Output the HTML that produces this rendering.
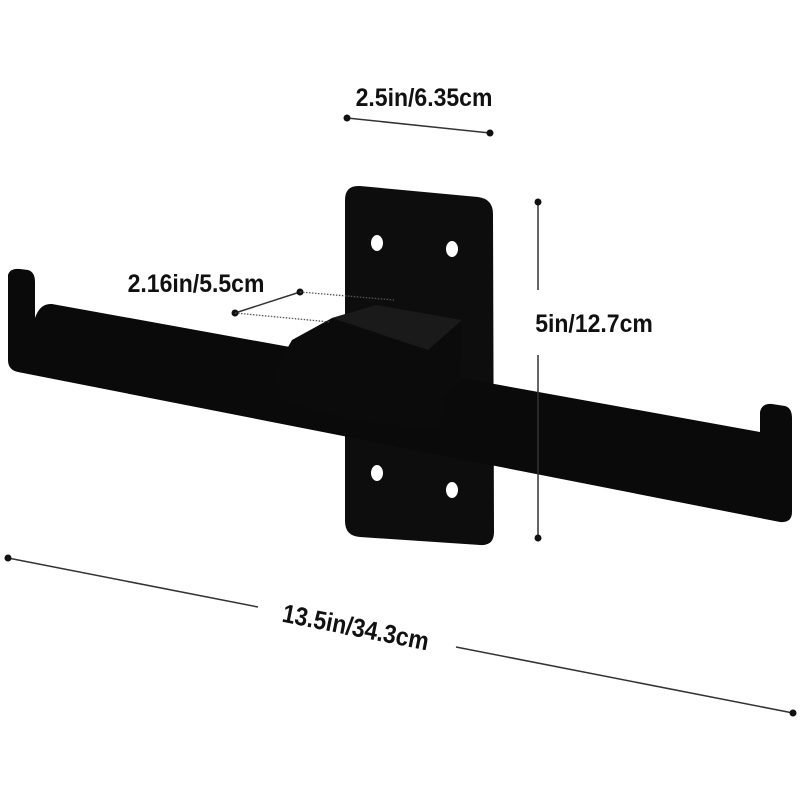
<!DOCTYPE html>
<html><head><meta charset="utf-8"><style>
html,body{margin:0;padding:0;background:#fff;}
svg{display:block}
text{font-family:"Liberation Sans Narrow","Liberation Sans",sans-serif;font-weight:bold;fill:#111;}
</style></head><body>
<svg width="800" height="800" viewBox="0 0 800 800">
<!-- plate -->
<path d="M360,186 L478,197 Q493,199 493,214 L494,532 Q494,546 480,545 L360,537 Q345,536 345,521 L345,200 Q345,185 360,186 Z" fill="#0d0d0d"/>
<ellipse cx="377" cy="243" rx="6" ry="8" fill="#fff"/>
<ellipse cx="452" cy="249" rx="6" ry="8" fill="#fff"/>
<ellipse cx="377" cy="473" rx="6" ry="8" fill="#fff"/>
<ellipse cx="452" cy="490" rx="6" ry="8" fill="#fff"/>
<!-- bar -->
<path d="M8,275 Q10,268 20,269 L28,270 Q35,272 35,282 L35,318 Q40,303 52,304 L760,432 L760,412 Q762,403 772,404 L785,406 Q792,408 792,418 L792,512 Q792,523 780,522 L18,372 Q8,370 8,360 Z" fill="#0a0a0a"/>
<!-- center block -->
<path d="M275,370 L292,340 L332,318 L376,305 L462,320 L460,382 L444,398 L440,430 L350,420 L280,400 Z" fill="#0b0b0b"/>
<path d="M332,318 L376,305 L462,320 L428,350 Z" fill="#1a1a1a"/>
<!-- dimension: top -->
<line x1="347" y1="118" x2="490" y2="133" stroke="#333" stroke-width="1.5"/>
<circle cx="347" cy="118" r="3.5" fill="#111"/><circle cx="490" cy="133" r="3.5" fill="#111"/>
<text font-size="25" text-anchor="middle" transform="translate(424,106) scale(0.92,1)">2.5in/6.35cm</text>
<!-- vertical -->
<line x1="538" y1="202" x2="538" y2="290" stroke="#333" stroke-width="1.5"/>
<line x1="538" y1="355" x2="538" y2="538" stroke="#333" stroke-width="1.5"/>
<circle cx="538" cy="202" r="3.5" fill="#111"/><circle cx="538" cy="538" r="3.5" fill="#111"/>
<text font-size="25" text-anchor="middle" transform="translate(594,332) scale(0.92,1)">5in/12.7cm</text>
<!-- 2.16 -->
<text font-size="25" text-anchor="middle" transform="translate(196,292) scale(0.92,1)">2.16in/5.5cm</text>
<line x1="300" y1="292" x2="235" y2="313" stroke="#333" stroke-width="1.5"/>
<circle cx="300" cy="292" r="3.5" fill="#111"/><circle cx="235" cy="313" r="3.5" fill="#111"/>
<line x1="300" y1="292" x2="394" y2="300" stroke="#555" stroke-width="1.3" stroke-dasharray="1.5,1.5"/>
<line x1="235" y1="313" x2="330" y2="322" stroke="#555" stroke-width="1.3" stroke-dasharray="1.5,1.5"/>
<!-- bottom -->
<line x1="8" y1="558" x2="258" y2="607" stroke="#333" stroke-width="1.5"/>
<line x1="456" y1="647" x2="793" y2="713" stroke="#333" stroke-width="1.5"/>
<circle cx="8" cy="558" r="3.5" fill="#111"/><circle cx="793" cy="713" r="3.5" fill="#111"/>
<text font-size="26" text-anchor="middle" transform="translate(354,636) rotate(11.2) scale(0.88,1)">13.5in/34.3cm</text>
</svg>
</body></html>
